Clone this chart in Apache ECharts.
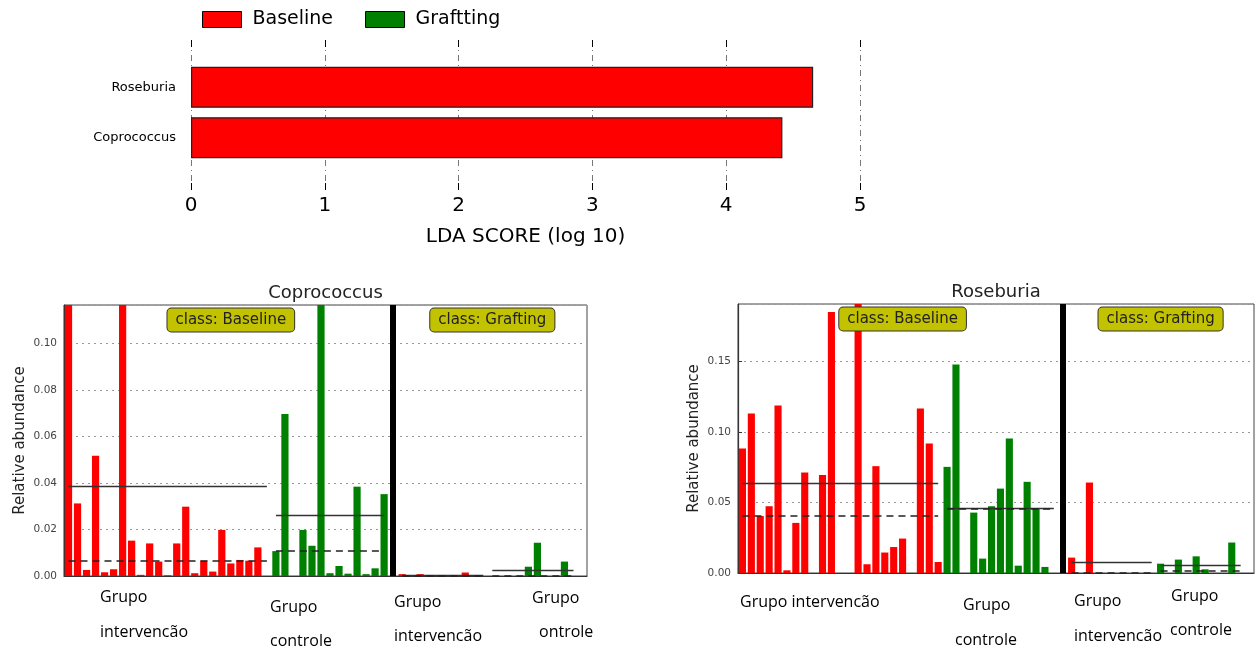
<!DOCTYPE html>
<html><head><meta charset="utf-8">
<script src="https://cdn.jsdelivr.net/npm/echarts@6/dist/echarts.min.js"></script>
<style>html,body{margin:0;padding:0;background:#fff}#c{width:1256px;height:648px}</style>
</head><body><div id="c"></div>
<script>
// ================= DATA =================
// Top: LDA scores
const ldaTaxa = ['Coprococcus', 'Roseburia'];
const ldaScores = [4.42, 4.65];
const ldaTicks = [0, 1, 2, 3, 4, 5];
const ldaAxisName = 'LDA SCORE (log 10)';
const legendNames = ['Baseline', 'Graftting'];
const classNames = ['class: Baseline', 'class: Grafting'];

// Coprococcus relative abundance per sample
const coproTitle = 'Coprococcus';
const coproBaseInt = [0.33, 0.0312, 0.0026, 0.0517, 0.0016, 0.0029, 0.33, 0.0152, 0.0005, 0.014, 0.0062, 0.0003,
  0.014, 0.0298, 0.0012, 0.0066, 0.0019, 0.0198, 0.0054, 0.0069, 0.0066, 0.0123, 0];
const coproBaseCtl = [0.0107, 0.0696, 0, 0.0198, 0.013, 0.143, 0.0012, 0.0043, 0.001, 0.0384, 0.0008, 0.0033, 0.0352];
const coproGraftInt = [0.0008, 0, 0.0008, 0, 0, 0, 0, 0.0015, 0, 0];
const coproGraftCtl = [0, 0, 0, 0, 0.004, 0.0143, 0, 0, 0.0062, 0];
const coproYMax = 0.1165;
const coproTickStep = 0.02;

// Roseburia relative abundance per sample
const roseTitle = 'Roseburia';
const roseBaseInt = [0.0882, 0.113, 0.0404, 0.0473, 0.1187, 0.0019, 0.0355, 0.0712, 0, 0.0695, 0.185, 0, 0,
  0.332, 0.0062, 0.0757, 0.0145, 0.0184, 0.0244, 0, 0.1166, 0.0918, 0.0078];
const roseBaseCtl = [0.0752, 0.1478, 0, 0.0428, 0.0102, 0.0473, 0.0598, 0.0953, 0.0052, 0.0646, 0.0457, 0.0043, 0];
const roseGraftInt = [0.0109, 0, 0.0641, 0, 0, 0, 0, 0, 0, 0];
const roseGraftCtl = [0.0066, 0, 0.0095, 0, 0.0118, 0.0026, 0, 0, 0.0216, 0];
const roseYMax = 0.1906;
const roseTickStep = 0.05;

const yAxisName = 'Relative abundance';

// Hand-written group annotations under the panels
const noteTexts = ['Grupo', 'intervencão', 'Grupo', 'controle', 'Grupo', 'intervencão', 'Grupo', 'ontrole',
  'Grupo intervencão', 'Grupo', 'controle', 'Grupo', 'intervencão', 'Grupo', 'controle'];

// ================= LAYOUT / STYLE =================
const notePos = [[100, 597], [100, 632], [270, 607], [270, 641], [394, 602], [394, 636], [532, 598], [539, 632],
  [740, 602], [963, 605], [955, 640], [1074, 601], [1074, 636], [1171, 596], [1170, 630]];
const panelGrids = [
  { left: 64, top: 305, width: 523, height: 271 },
  { left: 738, top: 304, width: 516, height: 269 }
];
const FONT = 'DejaVu Sans';
const RED = '#ff0000', GREEN = '#008000';

function mean(a) { return a.reduce((s, v) => s + v, 0) / a.length; }
function median(a) {
  const s = a.slice().sort((x, y) => x - y); const n = s.length;
  return n % 2 ? s[(n - 1) / 2] : (s[n / 2 - 1] + s[n / 2]) / 2;
}

function layoutSlots(groups) {
  const cats = [], red = [], green = [], ranges = [];
  const push = (vals, kind, tag) => {
    const s = cats.length;
    vals.forEach((v, i) => { cats.push(tag + (i + 1)); red.push(kind === 'r' ? v : '-'); green.push(kind === 'g' ? v : '-'); });
    ranges.push({ s, e: cats.length - 1, kind, vals });
  };
  push(groups[0], 'r', 'BI'); push(groups[1], 'g', 'BC');
  const sep = cats.length; cats.push('sep'); red.push('-'); green.push('-');
  push(groups[2], 'r', 'GI'); push(groups[3], 'g', 'GC');
  cats.push('pad'); red.push('-'); green.push('-');
  return { cats, red, green, ranges, sep };
}

function groupLines(L, kind) {
  const out = [];
  L.ranges.filter(r => r.kind === kind).forEach(r => {
    const m = mean(r.vals), md = median(r.vals);
    out.push([{ coord: [L.cats[r.s], m], lineStyle: { type: 'solid', color: '#333', width: 1.3 } },
              { coord: [L.cats[r.e], m] }]);
    out.push([{ coord: [L.cats[r.s], md], lineStyle: { type: [7, 5], color: '#222', width: 1.5 } },
              { coord: [L.cats[r.e], md] }]);
  });
  return out;
}

const panels = [
  { title: coproTitle, groups: [coproBaseInt, coproBaseCtl, coproGraftInt, coproGraftCtl], yMax: coproYMax, step: coproTickStep },
  { title: roseTitle, groups: [roseBaseInt, roseBaseCtl, roseGraftInt, roseGraftCtl], yMax: roseYMax, step: roseTickStep }
];

const option = {
  animation: false,
  backgroundColor: '#fff',
  title: [],
  legend: {
    data: legendNames, left: 197, top: 5, itemWidth: 39, itemHeight: 16, itemGap: 32, icon: 'rect',
    itemStyle: { borderColor: '#000', borderWidth: 1 },
    textStyle: { fontSize: 19, fontFamily: FONT, color: '#000', padding: [0, 0, 0, 6] }
  },
  grid: [
    { left: 191, top: 40, width: 669, height: 150 },
    { left: 191, top: 62, width: 669, height: 101 }
  ],
  xAxis: [
    { gridIndex: 0, type: 'value', min: ldaTicks[0], max: ldaTicks[ldaTicks.length - 1], interval: 1, position: 'bottom',
      axisLine: { show: false }, axisTick: { show: true, inside: true, length: 7, lineStyle: { color: '#000' } },
      axisLabel: { fontSize: 20, fontFamily: FONT, color: '#000', margin: 6 },
      splitLine: { show: true, lineStyle: { color: '#777', type: [6, 4, 1, 4], width: 1 } },
      name: ldaAxisName, nameLocation: 'middle', nameGap: 37, nameTextStyle: { fontSize: 20, fontFamily: FONT, color: '#000' } },
    { gridIndex: 0, type: 'value', min: ldaTicks[0], max: ldaTicks[ldaTicks.length - 1], interval: 1, position: 'top',
      axisLine: { show: false }, axisTick: { show: true, inside: true, length: 7, lineStyle: { color: '#000' } },
      axisLabel: { show: false }, splitLine: { show: false } },
    { gridIndex: 1, type: 'value', min: ldaTicks[0], max: ldaTicks[ldaTicks.length - 1], show: false }
  ],
  yAxis: [
    { gridIndex: 0, type: 'value', min: 0, max: 1, show: false },
    { gridIndex: 1, type: 'category', data: ldaTaxa, axisLine: { show: false }, axisTick: { show: false },
      axisLabel: { fontSize: 13, fontFamily: FONT, color: '#000', margin: 15 } }
  ],
  series: [
    { name: legendNames[0], type: 'bar', xAxisIndex: 2, yAxisIndex: 1, data: ldaScores, barWidth: 41, barGap: '-100%',
      itemStyle: { color: RED, borderColor: '#222', borderWidth: 1.2 } },
    { name: legendNames[1], type: 'bar', xAxisIndex: 2, yAxisIndex: 1, data: [], barWidth: 41, barGap: '-100%',
      itemStyle: { color: GREEN, borderColor: '#222', borderWidth: 1.2 } }
  ],
  graphic: []
};

panels.forEach((p, k) => {
  const L = layoutSlots(p.groups);
  const gi = option.grid.length;
  const g = panelGrids[k];
  option.grid.push(Object.assign({ show: true, borderColor: '#444', borderWidth: 1, backgroundColor: 'transparent' }, g));
  const xi = option.xAxis.length, yi = option.yAxis.length;
  option.xAxis.push({ gridIndex: gi, type: 'category', data: L.cats, axisLabel: { show: false }, axisTick: { show: false },
    axisLine: { show: true, lineStyle: { color: '#333', width: 1.2 } } });
  option.yAxis.push({ gridIndex: gi, type: 'value', min: 0, max: p.yMax, interval: p.step,
    axisLine: { show: true, lineStyle: { color: '#333', width: 1.2 } },
    axisTick: { show: true, inside: true, length: 4, lineStyle: { color: '#333' } },
    axisLabel: { fontSize: 10.5, fontFamily: FONT, color: '#444', margin: 7, showMaxLabel: false,
      formatter: v => v.toFixed(2) },
    splitLine: { show: true, lineStyle: { color: '#999', type: [2, 4], width: 1 } },
    name: yAxisName, nameLocation: 'middle', nameGap: 36,
    nameTextStyle: { fontSize: 15, fontFamily: FONT, color: '#222' } });
  option.title.push({ text: p.title, left: g.left + g.width / 2, top: g.top - 21, textAlign: 'center', padding: 0,
    textStyle: { fontSize: 18, fontWeight: 'normal', fontFamily: FONT, color: '#222' } });

  const bIdx = Math.round((L.ranges[0].s + L.ranges[1].e) / 2);
  const gIdx = Math.round((L.ranges[2].s + L.ranges[3].e) / 2);
  const common = { type: 'bar', xAxisIndex: xi, yAxisIndex: yi, barWidth: '80%', barGap: '-100%', clip: true, silent: true };
  option.series.push(Object.assign({}, common, {
    name: p.title + '-r', data: L.red, itemStyle: { color: RED },
    markLine: { silent: true, symbol: ['none', 'none'], label: { show: false }, emphasis: { disabled: true },
      data: [{ xAxis: L.cats[L.sep], lineStyle: { color: '#000', width: 6, type: 'solid' } }].concat(groupLines(L, 'r')) },
    markPoint: { symbol: 'rect', symbolSize: 1, itemStyle: { color: 'transparent' }, silent: true,
      label: { show: true, position: 'bottom', distance: 3, formatter: q => q.name, fontSize: 15, fontFamily: FONT,
        color: '#222', backgroundColor: '#c2c200', borderColor: '#333', borderWidth: 1, borderRadius: 4,
        padding: [3, 8], lineHeight: 17 },
      data: [{ name: classNames[0], coord: [L.cats[bIdx], p.yMax] }, { name: classNames[1], coord: [L.cats[gIdx], p.yMax] }] }
  }));
  option.series.push(Object.assign({}, common, {
    name: p.title + '-g', data: L.green, itemStyle: { color: GREEN },
    markLine: { silent: true, symbol: ['none', 'none'], label: { show: false }, emphasis: { disabled: true },
      data: groupLines(L, 'g') }
  }));
});

noteTexts.forEach((t, i) => {
  option.graphic.push({ type: 'text', x: notePos[i][0], y: notePos[i][1], silent: true,
    style: { text: t, font: '16px "Open Sans"', fill: '#000', verticalAlign: 'middle' } });
});

const chart = echarts.init(document.getElementById('c'));
chart.setOption(option);
</script></body></html>
